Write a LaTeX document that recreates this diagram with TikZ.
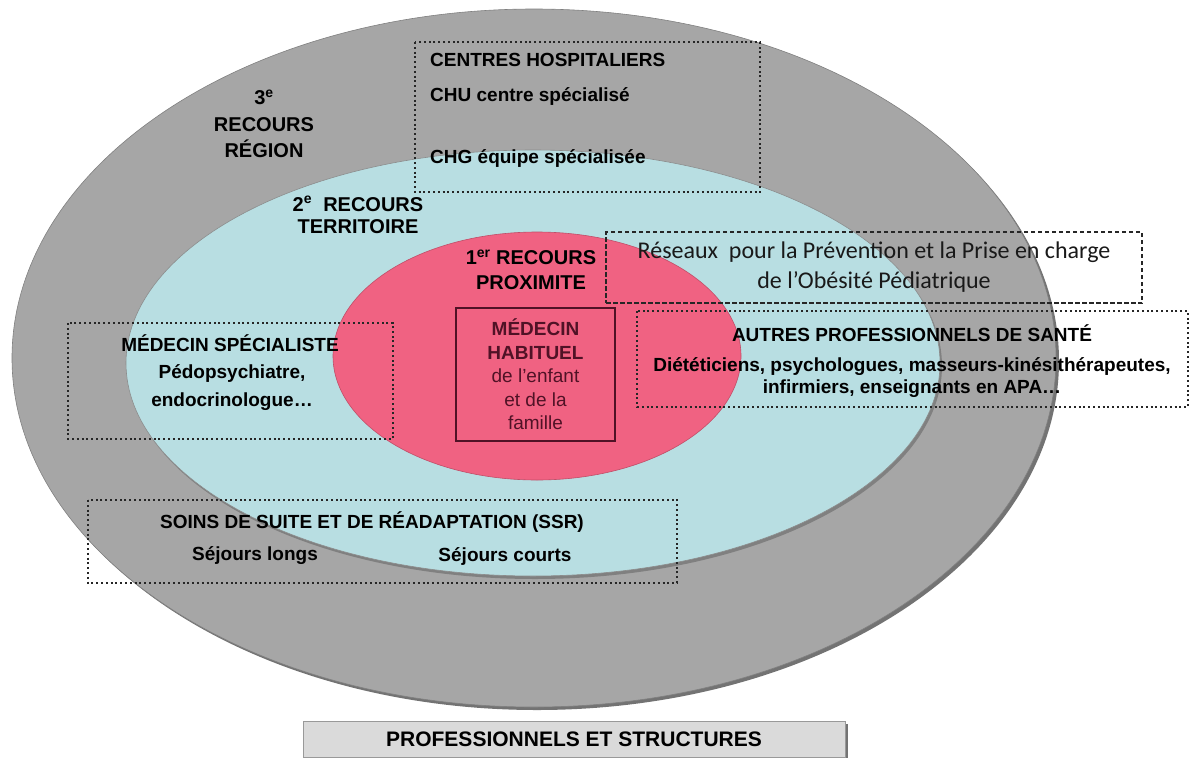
\documentclass[tikz,border=0pt]{standalone}
\usepackage{fontspec}
\setmainfont{Liberation Sans}
\newfontfamily\calfont{Carlito}
\usepackage{tikz}
\usetikzlibrary{positioning}

\definecolor{region3}{RGB}{166,166,166}
\definecolor{region2}{RGB}{184,222,226}
\definecolor{region1}{RGB}{240,98,130}
\definecolor{maroon}{RGB}{80,18,38}
\definecolor{barfill}{RGB}{218,218,218}

\begin{document}
\begin{tikzpicture}[x=1pt, y=-1pt,
    lbl/.style={font=\bfseries\fontsize{19}{23}\selectfont, align=center, inner sep=0pt},
    recours/.style={lbl, font=\bfseries\fontsize{20}{24}\selectfont},
    dotbox/.style={draw=black!85, line width=2.2pt, dash pattern=on 2pt off 2.8pt},
    dashbox/.style={draw=black!85, line width=1.1pt, dash pattern=on 4.5pt off 2.5pt}]
  \useasboundingbox (0,0) rectangle (1196,758);

  % the three levels
  \fill[black!55] (537,361) ellipse [x radius=522pt, y radius=349pt];
  \filldraw[fill=region3, draw=black!50, line width=0.6pt] (534,358) ellipse [x radius=522pt, y radius=349pt];
  \fill[black!50] (535,366) ellipse [x radius=407pt, y radius=213pt];
  \filldraw[fill=region2, draw=black!45, line width=0.6pt] (533,363) ellipse [x radius=407pt, y radius=213pt];
  \filldraw[fill=region1, draw=region1!80!black, line width=0.6pt] (537,356) ellipse [x radius=204pt, y radius=124pt];

  \node[recours, font=\bfseries\fontsize{20}{26.5}\selectfont] (region) at (264,124) {3\textsuperscript{e}\\RECOURS\\RÉGION};
  \node[recours, font=\bfseries\fontsize{20}{22}\selectfont] (territoire) at (358,215) {2\textsuperscript{e}\ \ RECOURS\\TERRITOIRE};
  \node[recours, font=\bfseries\fontsize{20}{25}\selectfont] (proximite) at (531,270) {1\textsuperscript{er} RECOURS\\PROXIMITE};

  % medecin habituel
  \node[draw=maroon, line width=1.8pt, minimum width=159pt, minimum height=133pt, inner sep=0pt,
        text=maroon, align=center, font=\fontsize{19}{23.5}\selectfont] (habituel) at (535.5,374.5)
        {\textbf{MÉDECIN}\\\textbf{HABITUEL}\\de l’enfant\\et de la\\famille};

  % centres hospitaliers
  \draw[dotbox] (415,42) rectangle (760,192);
  \node[lbl, anchor=west] (centres) at (430,60) {CENTRES HOSPITALIERS};
  \node[lbl, anchor=west] (chu) at (430,97) {CHU centre spécialisé};
  \node[lbl, anchor=west] (chg) at (430,158) {CHG équipe spécialisée};

  % reseaux
  \node[dashbox, minimum width=536pt, minimum height=71pt, inner sep=0pt, align=center,
        font=\calfont\fontsize{24}{30}\selectfont, text=black!90] (reseaux) at (874,267.5)
        {Réseaux\ \ pour la Prévention et la Prise en charge\\de l’Obésité Pédiatrique};

  % autres professionnels
  \draw[dotbox] (637,311) rectangle (1188,407);
  \node[lbl] (autres) at (912,333) {AUTRES PROFESSIONNELS DE SANTÉ};
  \node[lbl, font=\bfseries\fontsize{19}{22}\selectfont] (paramed) at (912,378)
        {Diététiciens, psychologues, masseurs-kinésithérapeutes,\\infirmiers, enseignants en APA…};

  % medecin specialiste
  \draw[dotbox] (68,323) rectangle (393,439);
  \node[lbl] (specialiste) at (230,343) {MÉDECIN SPÉCIALISTE};
  \node[lbl] (pedo) at (232,373) {Pédopsychiatre,};
  \node[lbl] (endo) at (232,402) {endocrinologue…};

  % ssr
  \draw[dotbox] (88,500) rectangle (677,583);
  \node[lbl] (ssr) at (372,522) {SOINS DE SUITE ET DE RÉADAPTATION (SSR)};
  \node[lbl] (longs) at (255,556) {Séjours longs};
  \node[lbl] (courts) at (505,556) {Séjours courts};

  % legend bar
  \fill[black!55] (306,724) rectangle (848,758);
  \node[draw=black!40, fill=barfill, minimum width=542pt, minimum height=36pt, inner sep=0pt,
        font=\bfseries\fontsize{21}{25}\selectfont] (legende) at (574,739) {PROFESSIONNELS ET STRUCTURES};
\end{tikzpicture}
\end{document}
